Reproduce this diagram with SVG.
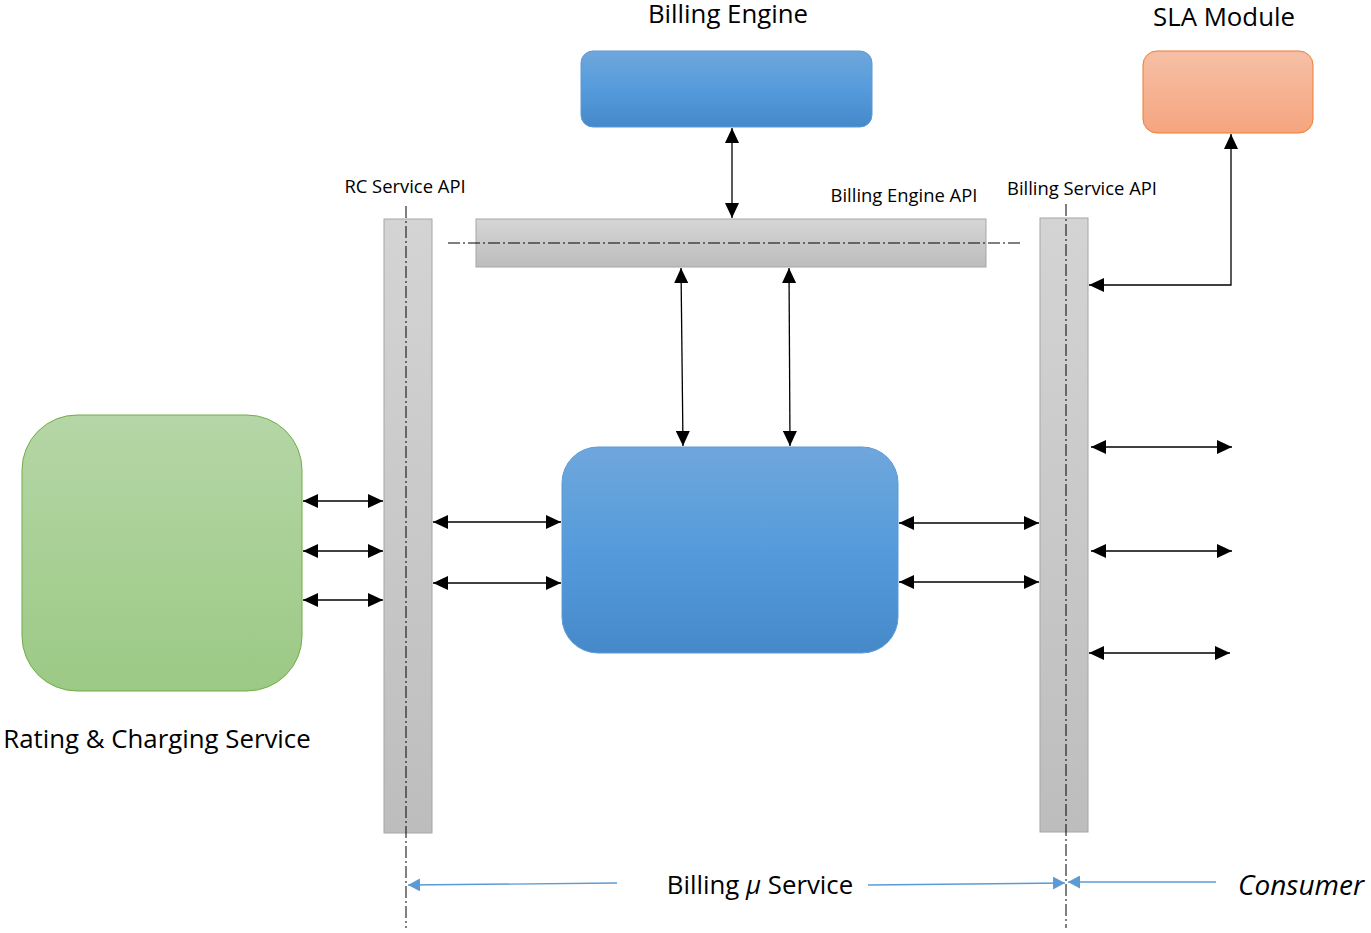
<svg xmlns="http://www.w3.org/2000/svg" width="1371" height="933" viewBox="0 0 1371 933">
<style>
.t{font-family:"Open Sans","Liberation Sans",sans-serif;fill:#000}
.big{font-size:25.8px}
.sm{font-size:18.4px}
.bar{stroke:#a6a6a6;stroke-width:1}
.dd{stroke:#000;stroke-width:1;stroke-dasharray:12,3,2,3;fill:none}
.c{stroke:#000;stroke-width:1.3;fill:none;marker-start:url(#ah);marker-end:url(#ah)}
.b{stroke:#5b9bd5;stroke-width:1.3;fill:none;marker-end:url(#bh)}
</style>
<defs>
<linearGradient id="gBlue" x1="0" y1="0" x2="0" y2="1"><stop offset="0" stop-color="#6fa7dc"/><stop offset="0.5" stop-color="#559bdb"/><stop offset="1" stop-color="#4589c9"/></linearGradient>
<linearGradient id="gOr" x1="0" y1="0" x2="0" y2="1"><stop offset="0" stop-color="#f6c0a6"/><stop offset="1" stop-color="#f5a57e"/></linearGradient>
<linearGradient id="gGr" x1="0" y1="0" x2="0" y2="1"><stop offset="0" stop-color="#b5d6a6"/><stop offset="1" stop-color="#9cc985"/></linearGradient>
<linearGradient id="gGrayH" x1="0" y1="0" x2="0" y2="1"><stop offset="0" stop-color="#d6d6d6"/><stop offset="1" stop-color="#bcbcbc"/></linearGradient>
<linearGradient id="gGrayV" x1="0" y1="0" x2="0" y2="1"><stop offset="0" stop-color="#d4d4d4"/><stop offset="1" stop-color="#bdbdbd"/></linearGradient>
<marker id="ah" viewBox="0 0 15 14" refX="15" refY="7" markerWidth="15" markerHeight="14" markerUnits="userSpaceOnUse" orient="auto-start-reverse"><path d="M0,0L15,7L0,14z" fill="#000"/></marker>
<marker id="bh" viewBox="0 0 12 13" refX="12" refY="6.5" markerWidth="12" markerHeight="13" markerUnits="userSpaceOnUse" orient="auto"><path d="M0,0L12,6.5L0,13z" fill="#5b9bd5"/></marker>
</defs>

<g id="billing-engine">
<rect x="581" y="51" width="291" height="76" rx="12" fill="url(#gBlue)" stroke="#5b9bd5"/>
<text class="t big" x="728" y="23" text-anchor="middle">Billing Engine</text>
</g>
<g id="sla-module">
<rect x="1143" y="51" width="170" height="82" rx="14" fill="url(#gOr)" stroke="#ed7d31"/>
<text class="t big" x="1224" y="26" text-anchor="middle">SLA Module</text>
</g>
<g id="billing-engine-api">
<rect class="bar" x="476" y="219" width="510" height="48" fill="url(#gGrayH)"/>
<line class="dd" x1="448" y1="243" x2="1020" y2="243"/>
<text class="t sm" x="904" y="202" text-anchor="middle">Billing Engine API</text>
</g>
<g id="rc-service-api">
<rect class="bar" x="384" y="219" width="48" height="614" fill="url(#gGrayV)"/>
<line class="dd" x1="406" y1="206" x2="406" y2="928"/>
<text class="t sm" x="405" y="193" text-anchor="middle">RC Service API</text>
</g>
<g id="billing-service-api">
<rect class="bar" x="1040" y="218" width="48" height="614" fill="url(#gGrayV)"/>
<line class="dd" x1="1066" y1="204" x2="1066" y2="928"/>
<text class="t sm" x="1082" y="195" text-anchor="middle">Billing Service API</text>
</g>
<g id="rating-charging">
<rect x="22" y="415" width="280" height="276" rx="55" fill="url(#gGr)" stroke="#70ad47"/>
<text class="t big" x="157" y="748" text-anchor="middle">Rating &amp; Charging Service</text>
</g>
<g id="billing-core">
<rect x="562" y="447" width="336" height="206" rx="36" fill="url(#gBlue)" stroke="#5b9bd5"/>
</g>
<g id="labels">
<text class="t big" x="760" y="894" text-anchor="middle">Billing <tspan font-style="italic">μ</tspan> Service</text>
<text class="t" x="1301" y="895" text-anchor="middle" font-style="italic" font-size="28">Consumer</text>
</g>

<g id="connectors">
<line class="c" x1="732" y1="128" x2="732" y2="218"/>
<line class="c" x1="681" y1="268" x2="683" y2="446"/>
<line class="c" x1="789" y1="268" x2="790" y2="446"/>
<line class="c" x1="303" y1="501" x2="383" y2="501"/>
<line class="c" x1="303" y1="551" x2="383" y2="551"/>
<line class="c" x1="303" y1="600" x2="383" y2="600"/>
<line class="c" x1="433" y1="522" x2="561" y2="522"/>
<line class="c" x1="433" y1="583" x2="561" y2="583"/>
<line class="c" x1="899" y1="523" x2="1039" y2="523"/>
<line class="c" x1="899" y1="582" x2="1039" y2="582"/>
<line class="c" x1="1091" y1="447" x2="1232" y2="447"/>
<line class="c" x1="1091" y1="551" x2="1232" y2="551"/>
<line class="c" x1="1089" y1="653" x2="1230" y2="653"/>
<polyline class="c" points="1089,285 1231,285 1231,134"/>
<line class="b" x1="617" y1="883" x2="408" y2="885"/>
<line class="b" x1="868" y1="885" x2="1065" y2="883"/>
<line class="b" x1="1216" y1="882" x2="1068" y2="882"/>
</g>
</svg>
